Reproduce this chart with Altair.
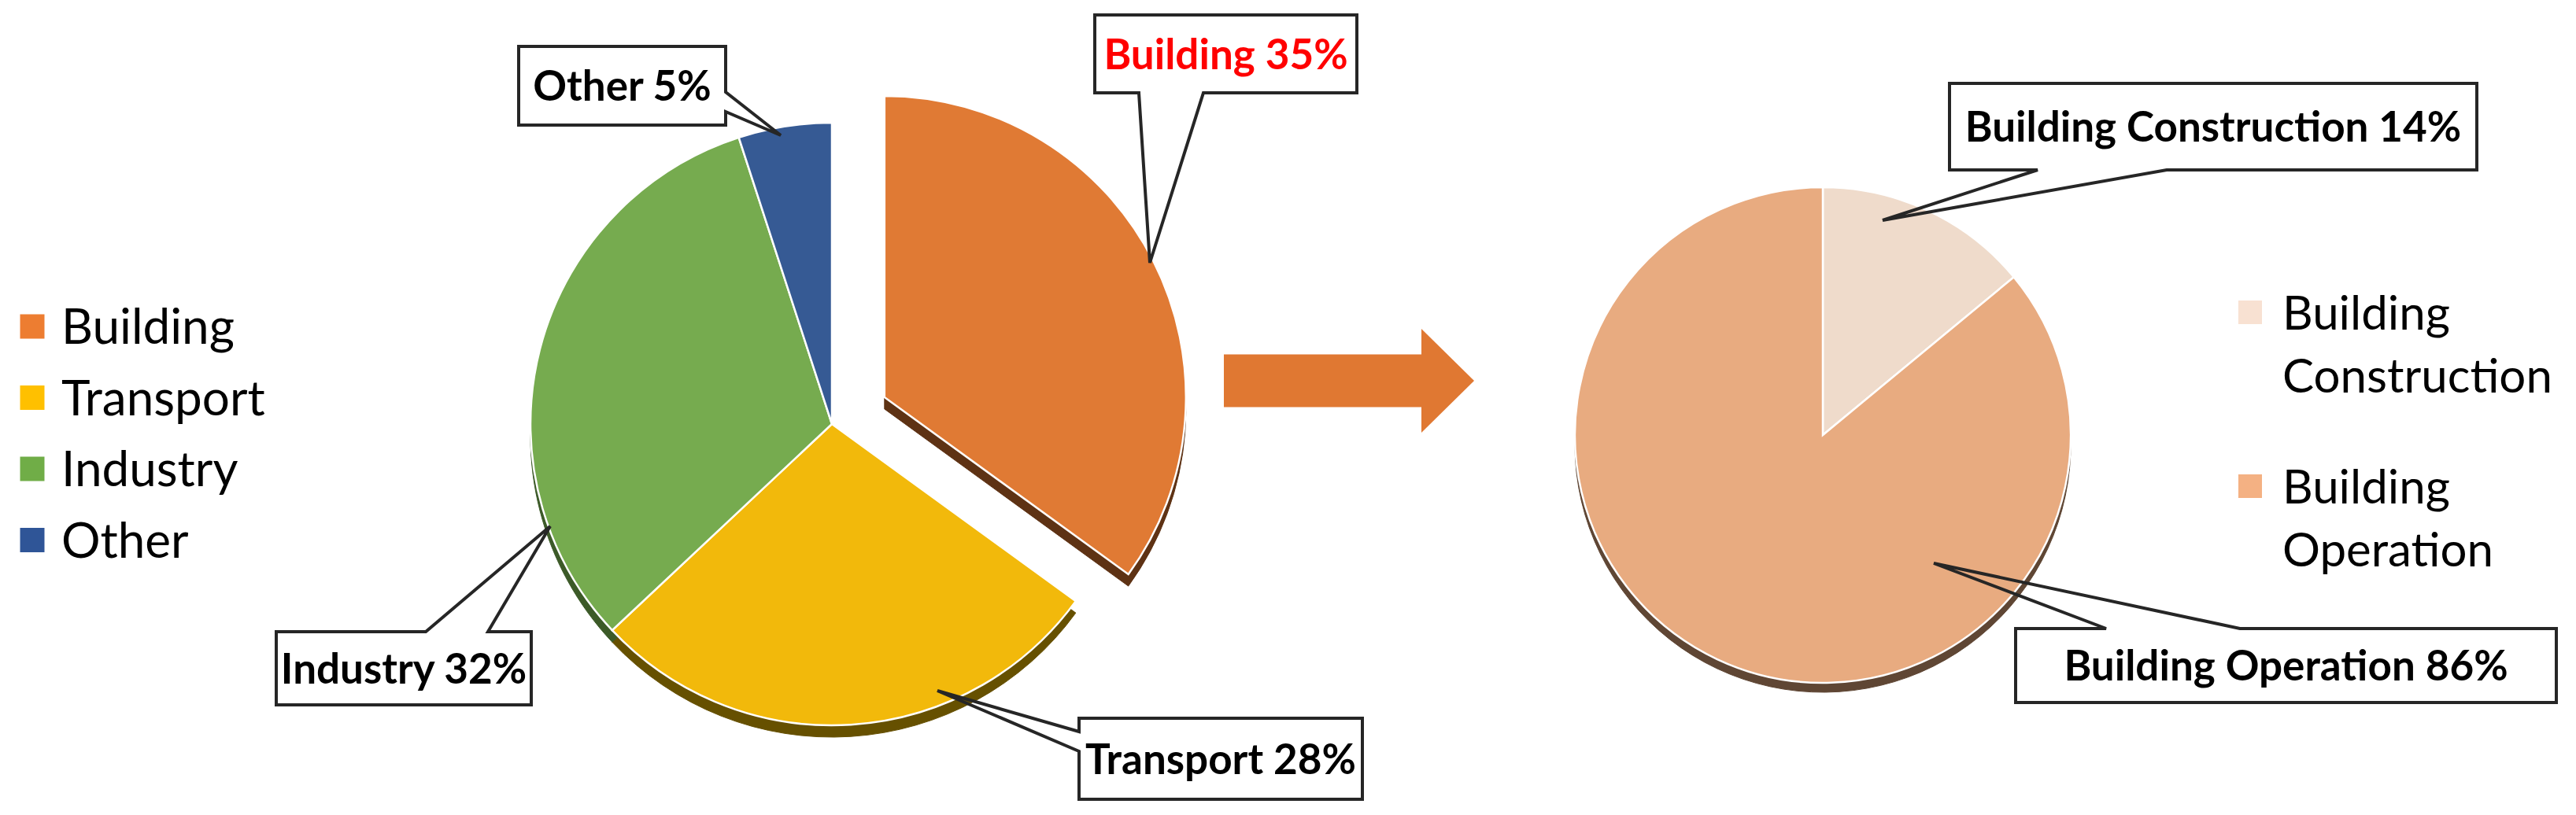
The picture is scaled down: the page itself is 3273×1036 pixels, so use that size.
import altair as alt
import pandas as pd

# ---------------- data ----------------
sectors = ["Building", "Transport", "Industry", "Other"]
sector_share = [35, 28, 32, 5]
building_parts = ["Building Construction", "Building Operation"]
building_share = [14, 86]

# ---------------- styles ----------------
sector_fill = ["#E07A34", "#F2B90B", "#76AB4F", "#365A94"]
sector_swatch = ["#ED7D31", "#FFC000", "#70AD47", "#2F5597"]
sector_shadow = ["#5E3214", "#665000", "#3C5A28", "#1C2E4C"]
sector_label_color = ["#FF0000", "#000000", "#000000", "#000000"]
part_fill = ["#EFDBCB", "#E8AB80"]
part_swatch = ["#F8E1D2", "#F4B183"]
part_shadow = ["#5F4634", "#5F4634"]
ARROW_COLOR = "#E07832"
BOX_STROKE = "#262626"
FONT = "Lato"
LABEL_SIZE = 53
LEGEND_LEFT_SIZE = 62
LEGEND_RIGHT_SIZE = 60

# ---------------- layout (pixel positions in the 3273x1036 picture) ----------------
MARGIN = 8
W, H = 3257, 1010
pie_left = {"cx": 1057, "cy": 539, "r": 383, "depth": 15}
pie_right = {"cx": 2316, "cy": 553, "r": 315, "depth": 12}
sector_explode = [75, 0, 0, 0]
part_explode = [0, 0]

# (x0, y0, x1, y1, side, base0, base1, tip_x, tip_y)
sector_boxes = [
    (1391, 19, 1724, 118, "bottom", 1447, 1529, 1461, 334),
    (1371, 913, 1731, 1016, "left", 930, 955, 1191, 878),
    (351, 803, 675, 896, "top", 541, 620, 699, 669),
    (659, 59, 922, 159, "right", 117, 142, 992, 172),
]
part_boxes = [
    (2477, 106, 3147, 216, "bottom", 2589, 2753, 2392, 280),
    (2561, 799, 3248, 893, "top", 2676, 2846, 2457, 716),
]
legend_left = {"x": 41, "y0": 415, "dy": 90.5, "tx": 78, "size": 31}
legend_right = {"x": 2859, "y": [397, 618], "tx": 2900, "line": 80, "size": 30}
arrow = {"x0": 1555, "x1": 1806, "x2": 1873, "yc": 484, "body": 33.5, "head": 66}
CAP = 0.36  # baseline offset (fraction of font size) to centre capitals

xs = alt.Scale(domain=[MARGIN, MARGIN + W], nice=False, zero=False)
ys = alt.Scale(domain=[MARGIN, MARGIN + H], nice=False, zero=False, reverse=True)


def X(f):
    return alt.X(f, type="quantitative", scale=xs, axis=None)


def Y(f):
    return alt.Y(f, type="quantitative", scale=ys, axis=None)


def pie_layers(names, shares, fills, shadows, explode, geo):
    df = pd.DataFrame({
        "name": names, "share": shares, "i": list(range(len(names))),
        "fill": fills, "shadow": shadows, "explode": explode,
    })
    base = (
        alt.Chart(df)
        .transform_joinaggregate(total="sum(share)")
        .transform_window(cum="sum(share)", sort=[alt.SortField("i")], frame=[None, 0])
        .transform_calculate(t0="2*PI*(datum.cum - datum.share)/datum.total")
        .transform_calculate(t1="2*PI*datum.cum/datum.total")
        .transform_calculate(mid="(datum.t0 + datum.t1)/2")
        .transform_calculate(cx=f"{geo['cx']} + datum.explode*sin(datum.mid)")
        .transform_calculate(cy=f"{geo['cy']} - datum.explode*cos(datum.mid)")
        .transform_calculate(sy=f"datum.cy + {geo['depth']}")
    )
    shadow = base.mark_arc(radius=geo["r"], strokeWidth=1).encode(
        x=X("cx"), y=Y("sy"),
        theta=alt.Theta("t0:Q", scale=None), theta2=alt.Theta2("t1"),
        fill=alt.Fill("shadow:N", scale=None), stroke=alt.Stroke("shadow:N", scale=None),
    )
    main = base.mark_arc(radius=geo["r"], stroke="white", strokeWidth=2.5).encode(
        x=X("cx"), y=Y("cy"),
        theta=alt.Theta("t0:Q", scale=None), theta2=alt.Theta2("t1"),
        fill=alt.Fill("fill:N", scale=None),
    )
    return [shadow, main]


def callout_layers(names, shares, colors, boxes):
    rects, pts, texts = [], [], []
    for n, (name, share, col, b) in enumerate(zip(names, shares, colors, boxes)):
        x0, y0, x1, y1, side, b0, b1, tx, ty = b
        rects.append({"x0": x0, "y0": y0, "x1": x1, "y1": y1})
        if side == "right":
            path = [(x0, y0), (x1, y0), (x1, b0), (tx, ty), (x1, b1), (x1, y1), (x0, y1), (x0, y0)]
        elif side == "bottom":
            path = [(x0, y0), (x1, y0), (x1, y1), (b1, y1), (tx, ty), (b0, y1), (x0, y1), (x0, y0)]
        elif side == "top":
            path = [(x0, y0), (b0, y0), (tx, ty), (b1, y0), (x1, y0), (x1, y1), (x0, y1), (x0, y0)]
        else:
            path = [(x0, y0), (x1, y0), (x1, y1), (x0, y1), (x0, b1), (tx, ty), (x0, b0), (x0, y0)]
        for k, (px, py) in enumerate(path):
            pts.append({"cid": name, "k": k, "px": px, "py": py})
        texts.append({
            "label": f"{name} {share}%", "color": col,
            "tx": (x0 + x1) / 2, "ty": (y0 + y1) / 2 + CAP * LABEL_SIZE,
        })
    fill = alt.Chart(pd.DataFrame(rects)).mark_rect(fill="white").encode(
        x=X("x0"), x2=alt.X2("x1"), y=Y("y0"), y2=alt.Y2("y1"))
    outline = alt.Chart(pd.DataFrame(pts)).mark_line(
        color=BOX_STROKE, strokeWidth=4, strokeJoin="miter", strokeCap="square").encode(
        x=X("px"), y=Y("py"), detail="cid:N", order="k:Q")
    text = alt.Chart(pd.DataFrame(texts)).mark_text(
        font=FONT, fontWeight="bold", fontSize=LABEL_SIZE, align="center", baseline="alphabetic").encode(
        x=X("tx"), y=Y("ty"), text="label:N", color=alt.Color("color:N", scale=None))
    return [fill, outline, text]


layers = []
layers += pie_layers(sectors, sector_share, sector_fill, sector_shadow, sector_explode, pie_left)
layers += pie_layers(building_parts, building_share, part_fill, part_shadow, part_explode, pie_right)

# arrow
arrow_body = alt.Chart(pd.DataFrame([{
    "x0": arrow["x0"], "x1": arrow["x1"],
    "y0": arrow["yc"] - arrow["body"], "y1": arrow["yc"] + arrow["body"]}])).mark_rect(
    color=ARROW_COLOR).encode(x=X("x0"), x2=alt.X2("x1"), y=Y("y0"), y2=alt.Y2("y1"))
arrow_head = alt.Chart(pd.DataFrame({
    "ax": [arrow["x1"], arrow["x2"]],
    "ay": [arrow["yc"] - arrow["head"], arrow["yc"]],
    "ay2": [arrow["yc"] + arrow["head"], arrow["yc"]]})).mark_area(
    color=ARROW_COLOR, orient="vertical").encode(x=X("ax"), y=Y("ay"), y2=alt.Y2("ay2"))
layers += [arrow_body, arrow_head]

# left legend
leg1 = pd.DataFrame({
    "name": sectors, "color": sector_swatch,
    "lx": [legend_left["x"]] * len(sectors),
    "ly": [legend_left["y0"] + i * legend_left["dy"] for i in range(len(sectors))],
    "tx": [legend_left["tx"]] * len(sectors),
})
leg1["ty"] = leg1["ly"] + CAP * LEGEND_LEFT_SIZE
layers.append(alt.Chart(leg1).mark_square(size=legend_left["size"] ** 2, opacity=1).encode(
    x=X("lx"), y=Y("ly"), color=alt.Color("color:N", scale=None)))
layers.append(alt.Chart(leg1).mark_text(
    font=FONT, fontSize=LEGEND_LEFT_SIZE, align="left", baseline="alphabetic", color="black").encode(
    x=X("tx"), y=Y("ty"), text="name:N"))

# right legend (names wrap word by word)
sw2, tx2 = [], []
for name, col, y in zip(building_parts, part_swatch, legend_right["y"]):
    sw2.append({"lx": legend_right["x"], "ly": y, "color": col})
    for j, word in enumerate(name.split(" ")):
        tx2.append({"word": word, "tx": legend_right["tx"],
                    "ty": y + j * legend_right["line"] + CAP * LEGEND_RIGHT_SIZE})
layers.append(alt.Chart(pd.DataFrame(sw2)).mark_square(size=legend_right["size"] ** 2, opacity=1).encode(
    x=X("lx"), y=Y("ly"), color=alt.Color("color:N", scale=None)))
layers.append(alt.Chart(pd.DataFrame(tx2)).mark_text(
    font=FONT, fontSize=LEGEND_RIGHT_SIZE, align="left", baseline="alphabetic", color="black").encode(
    x=X("tx"), y=Y("ty"), text="word:N"))

# callouts
layers += callout_layers(sectors, sector_share, sector_label_color, sector_boxes)
layers += callout_layers(building_parts, building_share, ["#000000", "#000000"], part_boxes)

chart = alt.layer(*layers).properties(
    width=W, height=H, padding=0, background="white"
).configure_view(stroke=None)

chart.save("out.html", embed_options={"renderer": "svg", "actions": False})
